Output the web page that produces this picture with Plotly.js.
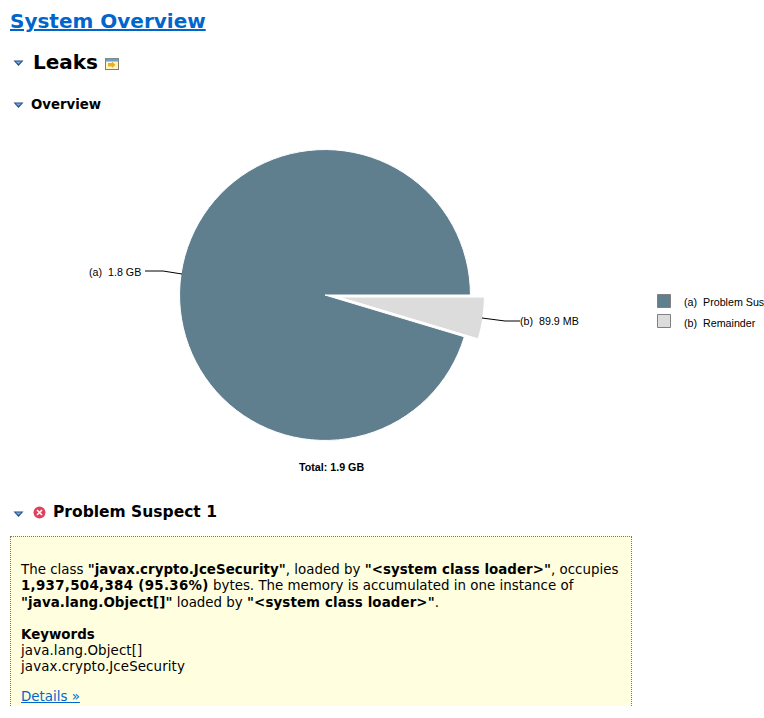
<!DOCTYPE html>
<html>
<head>
<meta charset="utf-8">
<script src="https://cdn.plot.ly/plotly-3.0.1.min.js"></script>
<style>
html,body{margin:0;padding:0;background:#fff;width:764px;height:718px;overflow:hidden}
#chart{position:absolute;left:0;top:0;width:764px;height:718px}
.t{position:absolute;white-space:nowrap;font-family:"DejaVu Sans",Verdana,sans-serif;color:#000;line-height:1}
.t b{font-weight:bold}
.ic{position:absolute}
#box{position:absolute;left:10px;top:536px;width:620px;height:176px;background:#ffffe0;border:1px dotted #777;box-sizing:content-box}
#clip{position:absolute;left:0;top:0;width:764px;height:706px;overflow:hidden}
</style>
</head>
<body>
<div id="clip"><div id="box"></div></div>
<div class="t" style="left:10px;top:11px;font-size:20px;font-weight:bold;color:#0066cc;text-decoration:underline">System Overview</div>
<svg class="ic" style="left:13px;top:60px" width="11" height="7"><path d="M0.5,0.5H10.5L5.5,6Z" fill="#1f4f8a"/><path d="M2.5,1.5H8.5L5.5,4Z" fill="#7fa8d0"/></svg>
<div class="t" style="left:33px;top:52px;font-size:20px;font-weight:bold">Leaks</div>
<svg class="ic" style="left:104px;top:57px" width="16" height="14"><rect x="1.5" y="1.5" width="13" height="11" fill="#fff4d0" stroke="#8a7a50"/><rect x="1.5" y="1.5" width="13" height="3" fill="#6d9ccf"/><path d="M4,6h4v-1.5l3.5,3.5l-3.5,3v-1.5h-4z" fill="#e8b020"/></svg>
<svg class="ic" style="left:13px;top:102px" width="11" height="7"><path d="M0.5,0.5H10.5L5.5,6Z" fill="#1f4f8a"/><path d="M2.5,1.5H8.5L5.5,4Z" fill="#7fa8d0"/></svg>
<div class="t" style="left:31px;top:98px;font-size:13.3px;font-weight:bold">Overview</div>
<svg class="ic" style="left:13px;top:511px" width="11" height="7"><path d="M0.5,0.5H10.5L5.5,6Z" fill="#1f4f8a"/><path d="M2.5,1.5H8.5L5.5,4Z" fill="#7fa8d0"/></svg>
<svg class="ic" style="left:33px;top:506px" width="13" height="13"><circle cx="6.5" cy="6.5" r="6" fill="#e0405a"/><path d="M4,4L9,9M9,4L4,9" stroke="#fff" stroke-width="1.6"/></svg>
<div class="t" style="left:53px;top:505px;font-size:15.5px;font-weight:bold">Problem Suspect 1</div>
<div class="t" style="left:21px;top:563px;font-size:13.4px">The class <b style="letter-spacing:.04px">"javax.crypto.JceSecurity"</b>, loaded by <b style="letter-spacing:.04px">"&lt;system class loader&gt;"</b>, occupies</div>
<div class="t" style="left:21px;top:579px;font-size:13.4px"><b style="letter-spacing:.3px">1,937,504,384 (95.36%)</b> bytes. The memory is accumulated in one instance of</div>
<div class="t" style="left:21px;top:596px;font-size:13.4px"><b style="letter-spacing:.1px">"java.lang.Object[]"</b> loaded by <b style="letter-spacing:.1px">"&lt;system class loader&gt;"</b>.</div>
<div class="t" style="left:21px;top:628px;font-size:13.4px"><b>Keywords</b></div>
<div class="t" style="left:21px;top:644px;font-size:13.4px;letter-spacing:.1px">java.lang.Object[]</div>
<div class="t" style="left:21px;top:660px;font-size:13.4px;letter-spacing:.1px">javax.crypto.JceSecurity</div>
<div class="t" style="left:21px;top:690px;font-size:13.4px;color:#0066cc;text-decoration:underline">Details »</div>
<div id="chart"></div>
<script>
const W = 764, H = 718;
const categories = ["(a)  Problem Suspect 1", "(b)  Remainder"];
const sliceBytes = [1937504384, 94268000];
const sliceLabels = ["(a)  1.8 GB", "(b)  89.9 MB"];
const sliceColors = ["#5f7f8f", "#dcdcdc"];
const pullAmounts = [0, 0.0966];
const totalLabel = "Total: 1.9 GB";

const fx = p => p / W, fy = p => 1 - p / H;
const share = sliceBytes[1] / (sliceBytes[0] + sliceBytes[1]);
const cx = 325, cy = 295, half = 159.5;

const swatch = (i, top) => ({type: "rect", xref: "paper", yref: "paper", layer: "above",
  x0: fx(657.5), x1: fx(670.5), y0: fy(top + 13), y1: fy(top),
  fillcolor: sliceColors[i], line: {color: "#808080", width: 1}});
const label = (text, x, y, anchor) => ({text, x: fx(x), y: fy(y), xref: "paper", yref: "paper",
  xanchor: anchor, yanchor: "middle", showarrow: false, font: {size: 10.7}});

Plotly.newPlot("chart", [{
  type: "pie",
  labels: categories,
  values: sliceBytes,
  sort: false,
  direction: "clockwise",
  rotation: 90 + share * 360,
  pull: pullAmounts,
  textinfo: "none",
  hoverinfo: "none",
  marker: {colors: sliceColors, line: {color: "#ffffff", width: 1}},
  domain: {x: [fx(cx - half), fx(cx + half)], y: [fy(cy + half), fy(cy - half)]},
  showlegend: false
}], {
  width: W, height: H,
  margin: {l: 0, r: 0, t: 0, b: 0},
  paper_bgcolor: "rgba(0,0,0,0)",
  font: {family: "Liberation Sans, Arial, sans-serif", size: 10, color: "#000"},
  showlegend: false,
  annotations: [
    label(sliceLabels[0], 143, 272, "right"),
    label(sliceLabels[1], 518, 321, "left"),
    label("<b>" + totalLabel + "</b>", 331, 467, "center"),
    label(categories[0], 682, 302, "left"),
    label(categories[1], 682, 323, "left")
  ],
  shapes: [
    {type: "path", xref: "paper", yref: "paper", line: {color: "#000", width: 1},
     path: `M${fx(145)},${fy(271)} L${fx(163)},${fy(271)} L${fx(182)},${fy(274)}`},
    {type: "path", xref: "paper", yref: "paper", line: {color: "#000", width: 1},
     path: `M${fx(482)},${fy(318)} L${fx(505)},${fy(321)} L${fx(520)},${fy(321)}`},
    swatch(0, 294.5), swatch(1, 314.5)
  ]
}, {displayModeBar: false, staticPlot: true});
</script>
</body>
</html>
